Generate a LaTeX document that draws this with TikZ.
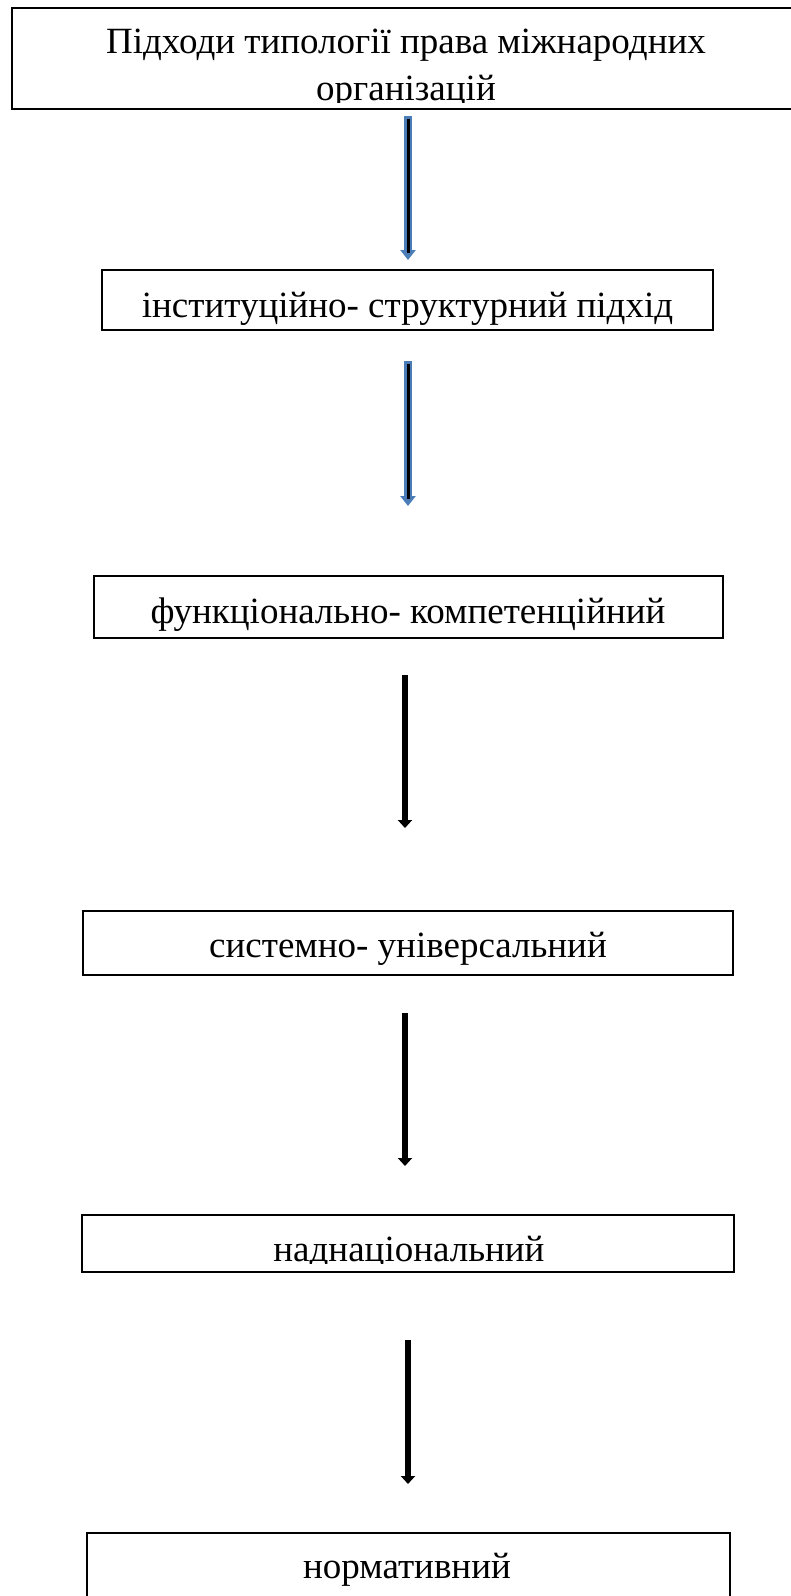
\documentclass[tikz,border=0pt]{standalone}
\usepackage{fontspec}
\setmainfont{Liberation Serif}
\usetikzlibrary{arrows.meta}
\definecolor{arrowblue}{HTML}{4A7DB8}
\tikzset{
  boxstyle/.style={draw=black, line width=2.6pt, inner sep=0pt},
  lbl/.style={font=\fontsize{37}{47}\selectfont, inner sep=0pt, anchor=base},
  bluearrow/.style={line width=8pt, draw=arrowblue, -{Triangle[width=15pt,length=10pt]}},
  bluecore/.style={line width=3pt, draw=black, shorten <=2.5pt, shorten >=7pt},
  blackarrow/.style={line width=6pt, draw=black, -{Triangle[width=14pt,length=8pt]}}
}
\begin{document}
\begin{tikzpicture}[x=1pt,y=-1pt]
\useasboundingbox (0,0) rectangle (790,1596);
% texts (clipped where the reference cuts them)
\begin{scope}
  \clip (13.25,9.25) rectangle (800,102.5);
  \node[lbl, align=center] (t1) at (406,100) {Підходи типології права міжнародних\\організацій};
\end{scope}
\node[lbl] (t2) at (407.5,317) {інституційно- структурний підхід};
\node[lbl] (t3) at (408,623) {функціонально- компетенційний};
\node[lbl] (t4) at (408,957) {системно- універсальний};
\begin{scope}
  \clip (83.25,1216.5) rectangle (732.75,1263);
  \node[lbl] (t5) at (409,1261) {наднаціональний};
\end{scope}
\node[lbl] (t6) at (407,1578) {нормативний};
% boxes
\node[boxstyle, minimum width=789pt, minimum height=101pt] (b1) at (406.5,58.5) {};
\node[boxstyle, minimum width=611pt, minimum height=60pt] (b2) at (407.5,300) {};
\node[boxstyle, minimum width=629pt, minimum height=62pt] (b3) at (408.5,607) {};
\node[boxstyle, minimum width=650pt, minimum height=64pt] (b4) at (408,943) {};
\node[boxstyle, minimum width=652pt, minimum height=57pt] (b5) at (408,1243.5) {};
\node[boxstyle, minimum width=643pt, minimum height=87pt] (b6) at (408.5,1576.5) {};
% arrows
\coordinate (a1s) at (408,116);  \coordinate (a1e) at (408,260);
\coordinate (a2s) at (408,361);  \coordinate (a2e) at (408,506);
\coordinate (a3s) at (405,675);  \coordinate (a3e) at (405,828);
\coordinate (a4s) at (405,1013); \coordinate (a4e) at (405,1166);
\coordinate (a5s) at (408,1340); \coordinate (a5e) at (408,1484);
\draw[bluearrow] (a1s) -- (a1e);
\draw[bluecore] (a1s) -- (a1e);
\draw[bluearrow] (a2s) -- (a2e);
\draw[bluecore] (a2s) -- (a2e);
\draw[blackarrow] (a3s) -- (a3e);
\draw[blackarrow] (a4s) -- (a4e);
\draw[blackarrow] (a5s) -- (a5e);
\end{tikzpicture}
\end{document}
